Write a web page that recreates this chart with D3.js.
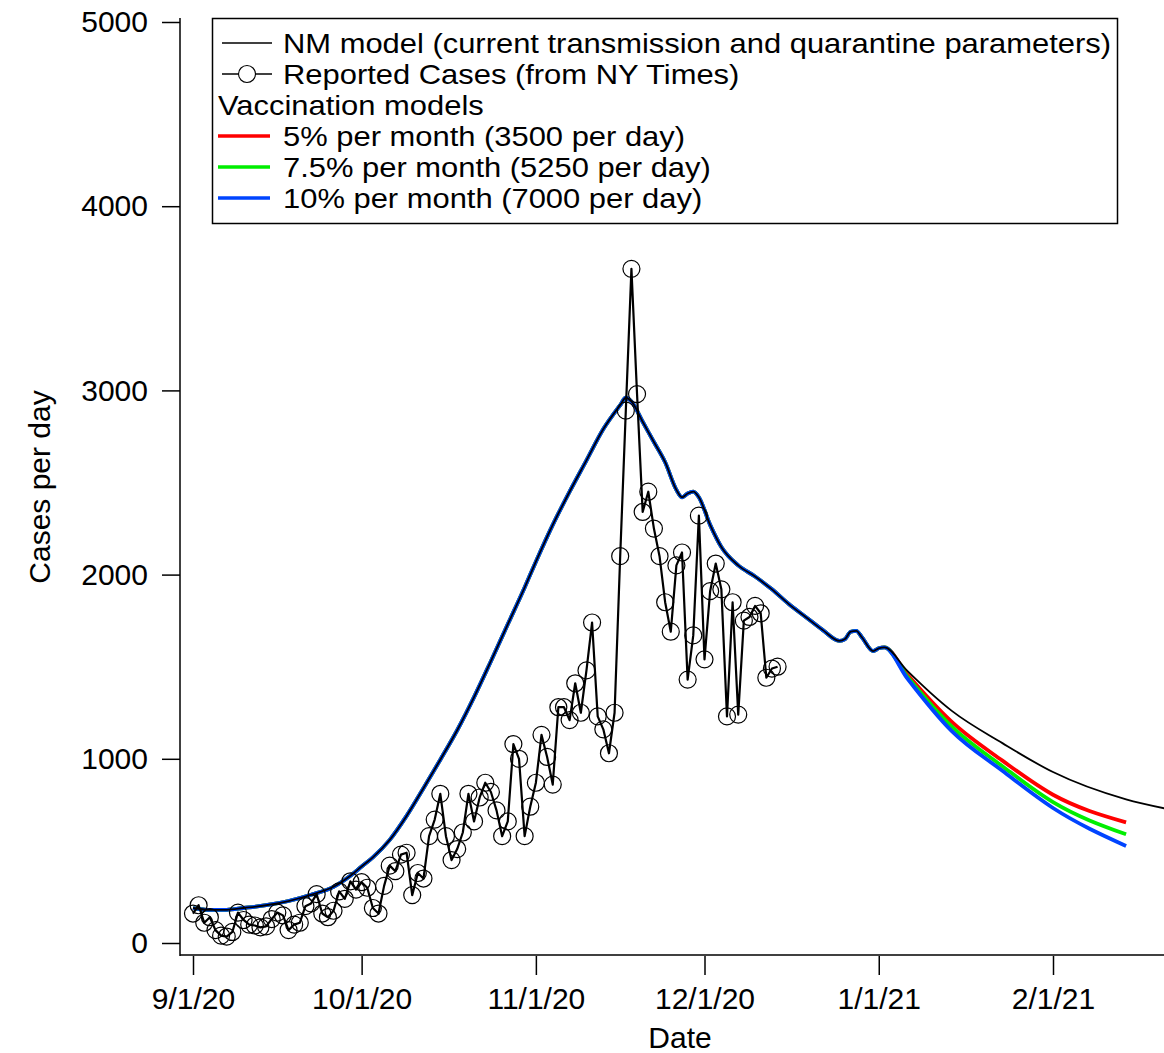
<!DOCTYPE html>
<html>
<head>
<meta charset="utf-8">
<script src="https://cdn.jsdelivr.net/npm/d3@7"></script>
<style>
  html, body { margin: 0; padding: 0; background: #fff; }
  svg { display: block; }
  text { font-family: "Liberation Sans", Arial, Helvetica, sans-serif; fill: #000; }
</style>
</head>
<body>
<svg id="chart" width="1164" height="1053"></svg>
<script>
// ---------------- DATA ----------------
const reportedStart = "2020-09-01";
// Reported daily cases (NY Times), one value per day from 9/1/20
const reportedCases = [
  160, 205, 110, 140, 70, 40, 35, 60, 165, 125,
  100, 95, 85, 90, 130, 165, 150, 70, 100, 110,
  200, 215, 265, 160, 140, 175, 280, 240, 335, 290,
  330, 300, 190, 160, 310, 420, 390, 480, 490, 260,
  380, 350, 580, 670, 810, 580, 450, 510, 600, 810,
  660, 790, 870, 820, 720, 580, 660, 1080, 1000, 580,
  740, 870, 1130, 1010, 860, 1280, 1280, 1210, 1410, 1250,
  1480, 1740, 1230, 1160, 1030, 1250, 2100, 2890, 3660, 2980,
  2340, 2450, 2250, 2100, 1850, 1690, 2050, 2120, 1430, 1670,
  2320, 1540, 1910, 2060, 1920, 1230, 1850, 1240, 1750, 1770,
  1830, 1790, 1440, 1490, 1500
];

// NM model (days after 9/1/20, cases per day)
const modelDays = [0, 3, 6, 9, 13, 17, 21, 25, 28, 30, 32, 35, 38, 41, 44, 47, 50, 53, 56, 59,
  61, 64, 67, 70, 73, 76, 77, 78, 80, 82, 84, 86, 87, 88, 89, 90, 92, 94, 97, 100,
  103, 106, 109, 112, 115, 116, 117, 118, 119, 121, 122, 123];
const modelBase = [190, 180, 180, 190, 205, 228, 262, 305, 365, 415, 465, 560, 690, 840, 995, 1155, 1335, 1530, 1730, 1930,
  2070, 2270, 2450, 2620, 2790, 2920, 2960, 2940, 2830, 2720, 2610, 2460, 2420, 2440, 2450, 2420, 2270, 2150, 2050, 1990,
  1920, 1840, 1770, 1700, 1640, 1650, 1690, 1695, 1660, 1585, 1600, 1605];

// Projections after 1/2/21
const projDays = [127, 135, 144, 153, 166];
const projDaysModel = [127, 135, 144, 153, 166, 173];
const projNoVacc = [1480, 1260, 1085, 928, 780, 730];
const proj5 = [1460, 1200, 990, 805, 655];
const proj75 = [1450, 1175, 960, 765, 590];
const proj10 = [1440, 1150, 935, 733, 527];

const yTicks = [0, 1000, 2000, 3000, 4000, 5000];
const xTickLabels = ["2020-09-01", "2020-10-01", "2020-11-01", "2020-12-01", "2021-01-01", "2021-02-01"];

const legendItems = [
  { label: "NM model (current transmission and quarantine parameters)", kind: "model", color: "#000" },
  { label: "Reported Cases (from NY Times)", kind: "reported", color: "#000" },
  { label: "Vaccination models", kind: "header", color: null },
  { label: "5% per month (3500 per day)", kind: "vacc", color: "#ff0000" },
  { label: "7.5% per month (5250 per day)", kind: "vacc", color: "#00ee00" },
  { label: "10% per month (7000 per day)", kind: "vacc", color: "#0044ff" }
];

// ---------------- CHART ----------------
const svg = d3.select("#chart");
const parse = d3.utcParse("%Y-%m-%d");
const t0 = parse(reportedStart);
const dayToDate = d => d3.utcDay.offset(t0, d);

const x = d3.scaleUtc()
  .domain([parse("2020-09-01"), parse("2021-02-01")])
  .range([193, 1053]);
const y = d3.scaleLinear().domain([0, 5000]).range([943, 22]);

const plotLeft = 180, plotRight = 1164, plotTop = 18, plotBottom = 955;

svg.append("defs").append("clipPath").attr("id", "clip")
  .append("rect").attr("x", plotLeft).attr("y", 0).attr("width", plotRight - plotLeft).attr("height", plotBottom);

const line = d3.line().x(d => x(dayToDate(d[0]))).y(d => y(d[1])).curve(d3.curveMonotoneX);

const base = modelDays.map((d, i) => [d, modelBase[i]]);
const vaccSeries = [
  { color: "#ff0000", vals: proj5 },
  { color: "#00ee00", vals: proj75 },
  { color: "#0044ff", vals: proj10 }
];

const g = svg.append("g").attr("clip-path", "url(#clip)");

vaccSeries.forEach(s => {
  const pts = base.concat(projDays.map((d, i) => [d, s.vals[i]]));
  g.append("path").datum(pts).attr("d", line)
    .attr("fill", "none").attr("stroke", s.color).attr("stroke-width", 3.8)
    .attr("stroke-linejoin", "round");
});

const modelPts = base.concat(projDaysModel.map((d, i) => [d, projNoVacc[i]]));
g.append("path").datum(modelPts).attr("d", line)
  .attr("fill", "none").attr("stroke", "#000").attr("stroke-width", 1.8);

// Reported cases
const rep = reportedCases.map((v, i) => [i, v]);
const repLine = d3.line().x(d => x(dayToDate(d[0]))).y(d => y(d[1]));
g.append("path").datum(rep).attr("d", repLine)
  .attr("fill", "none").attr("stroke", "#000").attr("stroke-width", 2.2).attr("stroke-linejoin", "round");
g.selectAll("circle.rep").data(rep).enter().append("circle")
  .attr("class", "rep")
  .attr("cx", d => x(dayToDate(d[0]))).attr("cy", d => y(d[1]))
  .attr("r", 8.5).attr("fill", "none").attr("stroke", "#000").attr("stroke-width", 1.2);

// Axes
const fontSize = 30;
const yAxis = d3.axisLeft(y).tickValues(yTicks).tickFormat(d3.format("d"))
  .tickSize(18).tickSizeOuter(0).tickPadding(14);
const yg = svg.append("g").attr("transform", `translate(${plotLeft},0)`).call(yAxis);
yg.select(".domain").remove();
yg.selectAll("line").attr("stroke", "#000").attr("stroke-width", 1.5);
yg.selectAll("text").attr("font-size", fontSize).attr("font-family", "Liberation Sans, Arial, sans-serif");

const xAxis = d3.axisBottom(x).tickValues(xTickLabels.map(parse))
  .tickFormat(d3.utcFormat("%-m/%-d/%y")).tickSize(19).tickSizeOuter(0).tickPadding(13);
const xg = svg.append("g").attr("transform", `translate(0,${plotBottom + 1})`).call(xAxis);
xg.select(".domain").remove();
xg.selectAll("line").attr("stroke", "#000").attr("stroke-width", 1.5);
xg.selectAll("text").attr("font-size", fontSize).attr("font-family", "Liberation Sans, Arial, sans-serif");

svg.append("line").attr("x1", plotLeft).attr("x2", plotLeft).attr("y1", plotTop).attr("y2", plotBottom + 1)
  .attr("stroke", "#000").attr("stroke-width", 1.5);
svg.append("line").attr("x1", plotLeft).attr("x2", plotRight).attr("y1", plotBottom).attr("y2", plotBottom)
  .attr("stroke", "#000").attr("stroke-width", 1.5);

// Axis titles
svg.append("text").attr("x", 680).attr("y", 1048).attr("text-anchor", "middle")
  .attr("font-size", fontSize).text("Date");
svg.append("text").attr("transform", "translate(50,487) rotate(-90)").attr("text-anchor", "middle")
  .attr("font-size", fontSize).text("Cases per day");

// Legend
const lg = svg.append("g");
lg.append("rect").attr("x", 212.5).attr("y", 18.5).attr("width", 905).attr("height", 205)
  .attr("fill", "#fff").attr("stroke", "#000").attr("stroke-width", 1.5);
const legendTexts = [];
legendItems.forEach((it, i) => {
  const cy = 43 + i * 31;
  if (it.kind === "model") {
    lg.append("line").attr("x1", 222).attr("x2", 272).attr("y1", cy).attr("y2", cy)
      .attr("stroke", "#000").attr("stroke-width", 1.5);
  } else if (it.kind === "reported") {
    lg.append("line").attr("x1", 222).attr("x2", 272).attr("y1", cy).attr("y2", cy)
      .attr("stroke", "#000").attr("stroke-width", 1.5);
    lg.append("circle").attr("cx", 247).attr("cy", cy).attr("r", 8.5)
      .attr("fill", "#fff").attr("stroke", "#000").attr("stroke-width", 1.1);
  } else if (it.kind === "vacc") {
    lg.append("line").attr("x1", 218).attr("x2", 270).attr("y1", cy).attr("y2", cy)
      .attr("stroke", it.color).attr("stroke-width", 3.5);
  }
  const t = lg.append("text").attr("x", it.kind === "header" ? 218 : 283).attr("y", cy + 10)
    .attr("font-size", 27.5).text(it.label);
  legendTexts.push(t);
});
// stretch legend text horizontally so the longest entry fills the box as in the original
const firstLen = legendTexts[0].node().getComputedTextLength();
const k = 828 / firstLen;
legendTexts.forEach(t => {
  const x0 = +t.attr("x");
  const len = t.node().getComputedTextLength();
  t.attr("textLength", len * k).attr("lengthAdjust", "spacingAndGlyphs");
});
</script>
</body>
</html>
